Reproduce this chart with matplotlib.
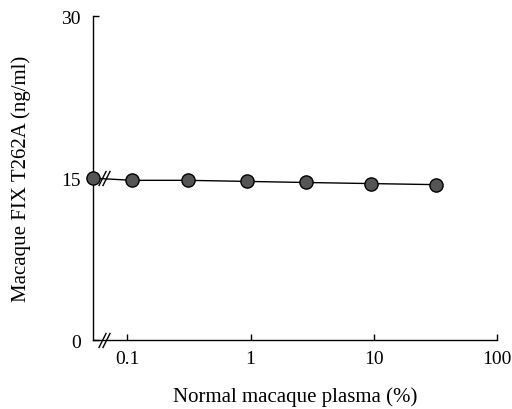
import matplotlib
matplotlib.use("Agg")
import matplotlib.pyplot as plt
import numpy as np

plt.rcParams.update({
    "font.family": "Liberation Serif",
    "font.size": 14,
    "axes.labelsize": 15,
    "axes.linewidth": 1.0,
    "xtick.direction": "in",
    "ytick.direction": "in",
})

# values
plasma = [0, 0.11, 0.31, 0.94, 2.8, 9.4, 32]          # % normal plasma (0 = no plasma)
fix_conc = [15.0, 14.8, 14.8, 14.7, 14.6, 14.5, 14.4]  # ng/ml
x_ticks = [0.1, 1, 10, 100]
x_ticklabels = ["0.1", "1", "10", "100"]
y_ticks = [0, 15, 30]

x_left = 0.053   # where the axis break starts; the 0 % sample is drawn here

fig = plt.figure(figsize=(5.12, 4.10), dpi=100)
ax = fig.add_axes([0.182, 0.168, 0.789, 0.790])

x_plot = [x_left if v == 0 else v for v in plasma]
ax.plot(x_plot, fix_conc, color="black", linewidth=1.0, zorder=2)
ax.plot(x_plot, fix_conc, "o", markersize=9.5, markerfacecolor="#555555",
        markeredgecolor="black", markeredgewidth=1.0, zorder=4, clip_on=False)

ax.set_xscale("log")
ax.set_xlim(x_left, 100)
ax.set_ylim(0, 30)
ax.set_xticks(x_ticks)
ax.set_xticklabels(x_ticklabels)
ax.xaxis.set_minor_locator(matplotlib.ticker.NullLocator())
ax.set_yticks(y_ticks)
ax.tick_params(length=4, width=1.0)
ax.tick_params(axis="x", pad=7)
ax.tick_params(axis="y", pad=9)

for side in ["top", "right"]:
    ax.spines[side].set_visible(False)

# axis break marks (//) on the x axis and on the data line
slash = [(-0.5, -1), (0.5, 1)]
for y in [0, fix_conc[0]]:
    ax.plot([0.063, 0.0675], [y, y], linestyle="none", marker=slash,
            markersize=11, markeredgewidth=1.0, color="black",
            clip_on=False, zorder=5)

ax.set_xlabel("Normal macaque plasma (%)", labelpad=14)
ax.set_ylabel("Macaque FIX T262A (ng/ml)", labelpad=22)

fig.savefig("out.png", dpi=100)
